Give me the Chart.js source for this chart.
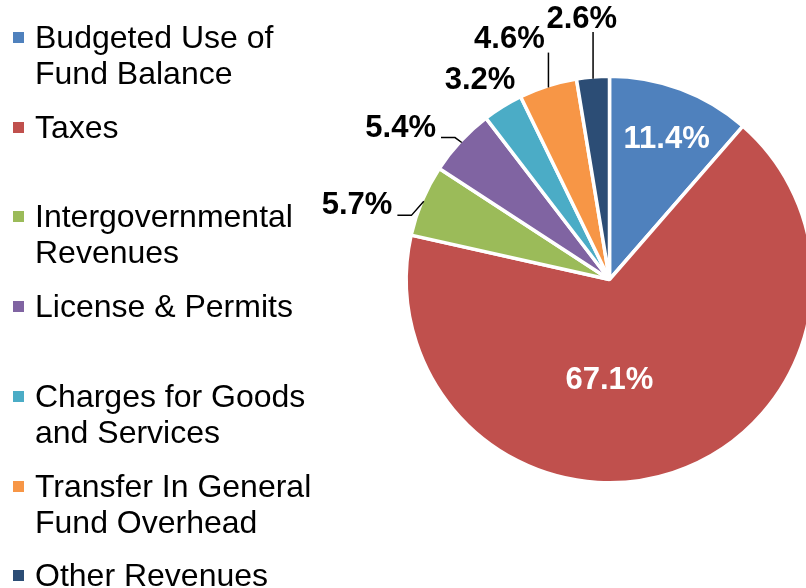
<!DOCTYPE html>
<html>
<head>
<meta charset="utf-8">
<script src="https://cdn.jsdelivr.net/npm/chart.js@4.4.1/dist/chart.umd.min.js"></script>
<style>
    html, body { margin: 0; padding: 0; background: #fff; overflow: hidden; }
    #wrap { position: relative; width: 806px; height: 588px; overflow: hidden; }
    #chart { position: absolute; left: 0; top: 0; }
    #legend { position: absolute; left: 0; top: 0; font-family: "Liberation Sans", Arial, sans-serif; font-size: 32px; color: #000; }
    .item { position: absolute; left: 13px; }
    .box { position: absolute; left: 0; width: 11px; height: 11px; }
    .txt { position: absolute; left: 22px; white-space: nowrap; line-height: 36px; }
</style>
</head>
<body>
<div id="wrap">
    <canvas id="chart" width="820" height="588"></canvas>
    <div id="legend"></div>
</div>
<script>
// Revenue categories (legend lines split where the original wraps)
const categories = [
    ['Budgeted Use of', 'Fund Balance'],
    ['Taxes'],
    ['Intergovernmental', 'Revenues'],
    ['License & Permits'],
    ['Charges for Goods', 'and Services'],
    ['Transfer In General', 'Fund Overhead'],
    ['Other Revenues']
];

// Share of total revenue, percent
const shares = [11.4, 67.1, 5.7, 5.4, 3.2, 4.6, 2.6];

const colors = ['#4F81BD', '#C0504D', '#9BBB59', '#8064A2', '#4BACC6', '#F79646', '#2C4D75'];

// Label placement: angle shift from slice middle (deg), distance as share of radius, leader style
const labelShift = [1.7, 18.2, -6.6, -6.9, -1.3, -5, -1.4];
const labelDist = [0.75, 0.5, 1.305, 1.28, 1.18, 1.29, 1.30];
const labelLeader = ['none', 'none', 'elbow', 'elbow', 'none', 'vertical', 'vertical'];

// Build the HTML legend
const legend = document.getElementById('legend');
categories.forEach((lines, i) => {
    const item = document.createElement('div');
    item.className = 'item';
    item.style.top = (37 + 89.7 * i - 18) + 'px';
    const box = document.createElement('div');
    box.className = 'box';
    box.style.background = colors[i];
    box.style.top = '13px';
    const txt = document.createElement('div');
    txt.className = 'txt';
    txt.innerHTML = lines.join('<br>');
    item.appendChild(box);
    item.appendChild(txt);
    legend.appendChild(item);
});

// Draw percentage labels and leader lines
const pieLabels = {
    id: 'pieLabels',
    afterDatasetsDraw(chart) {
        const ctx = chart.ctx;
        const arcs = chart.getDatasetMeta(0).data;
        ctx.save();
        ctx.font = 'bold 31px "Liberation Sans", Arial, sans-serif';
        ctx.textAlign = 'center';
        ctx.textBaseline = 'middle';
        arcs.forEach((arc, i) => {
            const { x, y, startAngle, endAngle, outerRadius } = arc.getProps(['x', 'y', 'startAngle', 'endAngle', 'outerRadius'], true);
            const r = outerRadius - 1.75;
            const mid = (startAngle + endAngle) / 2;
            const a = mid + labelShift[i] * Math.PI / 180;
            const lx = x + Math.cos(a) * r * labelDist[i];
            const ly = y + Math.sin(a) * r * labelDist[i];
            const text = shares[i].toFixed(1) + '%';
            const w = ctx.measureText(text).width;
            const px = x + Math.cos(mid) * r;
            const py = y + Math.sin(mid) * r;

            ctx.strokeStyle = '#000';
            ctx.lineWidth = 1.5;
            if (labelLeader[i] === 'elbow') {
                const right = lx + w / 2;
                ctx.beginPath();
                ctx.moveTo(px, py);
                ctx.lineTo(right + 19, ly + 9.5);
                ctx.lineTo(right + 5, ly + 9.5);
                ctx.stroke();
            } else if (labelLeader[i] === 'vertical') {
                ctx.beginPath();
                ctx.moveTo(px, py);
                ctx.lineTo(px, ly + 13);
                ctx.stroke();
            }
            ctx.fillStyle = labelDist[i] < 1 ? '#fff' : '#000';
            ctx.fillText(text, lx, ly);
        });
        ctx.restore();
    }
};

new Chart(document.getElementById('chart'), {
    type: 'pie',
    data: {
        labels: categories.map(c => c.join(' ')),
        datasets: [{
            data: shares,
            backgroundColor: colors,
            borderColor: '#fff',
            borderWidth: 3.5
        }]
    },
    options: {
        responsive: false,
        animation: false,
        layout: { padding: { left: 404.5, top: 74.5, right: 5.5, bottom: 103.5 } },
        plugins: {
            legend: { display: false },
            tooltip: { enabled: false }
        }
    },
    plugins: [pieLabels]
});
</script>
</body>
</html>
